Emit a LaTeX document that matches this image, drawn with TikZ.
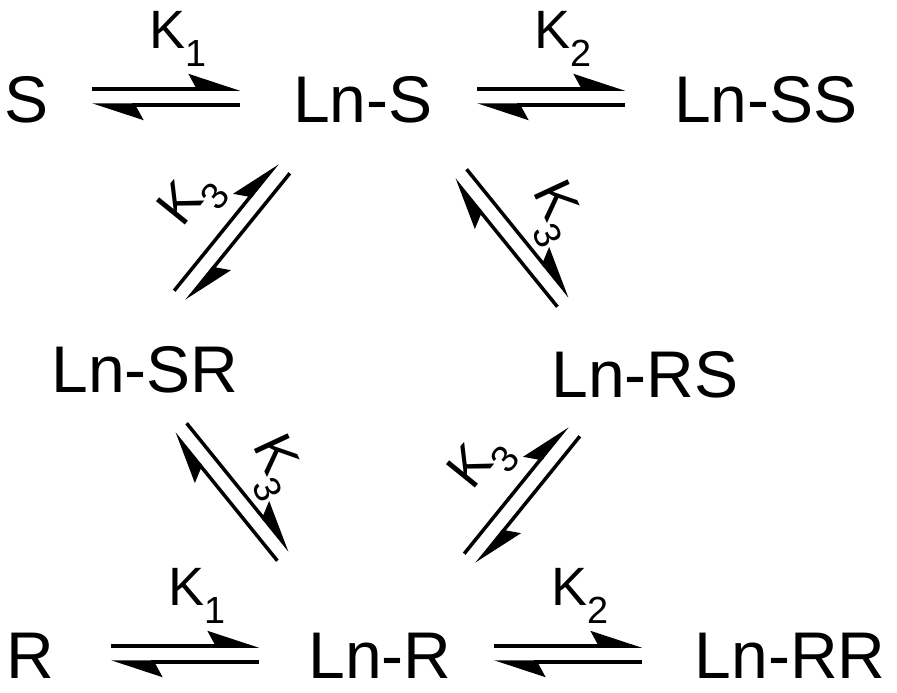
\documentclass[tikz,border=0pt]{standalone}
\usepackage{fontspec}
\setmainfont{Liberation Sans}
\usetikzlibrary{arrows.meta}
\tikzset{
  species/.style={inner sep=0pt,font=\fontsize{66}{74}\selectfont},
  klabel/.style={inner sep=0pt,font=\fontsize{54}{60}\selectfont},
  harp/.style={line width=3.5pt,-{Stealth[harpoon,length=46pt,width=30pt,inset=8pt]}}
}
\newcommand\eqpair[8]{% name, cx, cy, angle, half length, label local x, label local y, text
  \begin{scope}[shift={(#2,#3)},rotate=#4]
    \coordinate (#1fa) at (-#5,8);  \coordinate (#1fb) at (#5,8);
    \coordinate (#1ba) at (#5,-8);  \coordinate (#1bb) at (-#5,-8);
    \draw[harp] (#1fa) -- (#1fb);
    \draw[harp] (#1ba) -- (#1bb);
    \node[klabel] (#1lab) at (#6,#7) {#8};
  \end{scope}}
\begin{document}
\begin{tikzpicture}[x=1pt,y=1pt]
\useasboundingbox (0,0) rectangle (897,-693);
\node[species] (S) at (27,-100) {S};
\node[species] (LnS) at (363,-100) {Ln-S};
\node[species] (LnSS) at (766,-100) {Ln-SS};
\node[species] (LnSR) at (145,-370) {Ln-SR};
\node[species] (LnRS) at (645,-375) {Ln-RS};
\node[species] (R) at (30,-656) {R};
\node[species] (LnR) at (380,-656) {Ln-R};
\node[species] (LnRR) at (790,-656) {Ln-RR};
\eqpair{h1}{166}{-97}{0}{74}{12}{58}{K\textsubscript{1}}
\eqpair{h2}{551}{-97}{0}{74}{12}{58}{K\textsubscript{2}}
\eqpair{h3}{185}{-654}{0}{74}{12}{58}{K\textsubscript{1}}
\eqpair{h4}{568}{-654}{0}{74}{12}{58}{K\textsubscript{2}}
\eqpair{d1}{232}{-232}{51}{82}{0}{50}{\rotatebox{51}{K\textsubscript{3}}}
\eqpair{d2}{512}{-238}{129}{82}{-7}{-47}{\rotatebox{-65}{K\textsubscript{3}}}
\eqpair{d3}{232}{-492}{129}{82}{-7}{-47}{\rotatebox{-65}{K\textsubscript{3}}}
\eqpair{d4}{522}{-495}{51}{82}{0}{50}{\rotatebox{51}{K\textsubscript{3}}}
\end{tikzpicture}
\end{document}
